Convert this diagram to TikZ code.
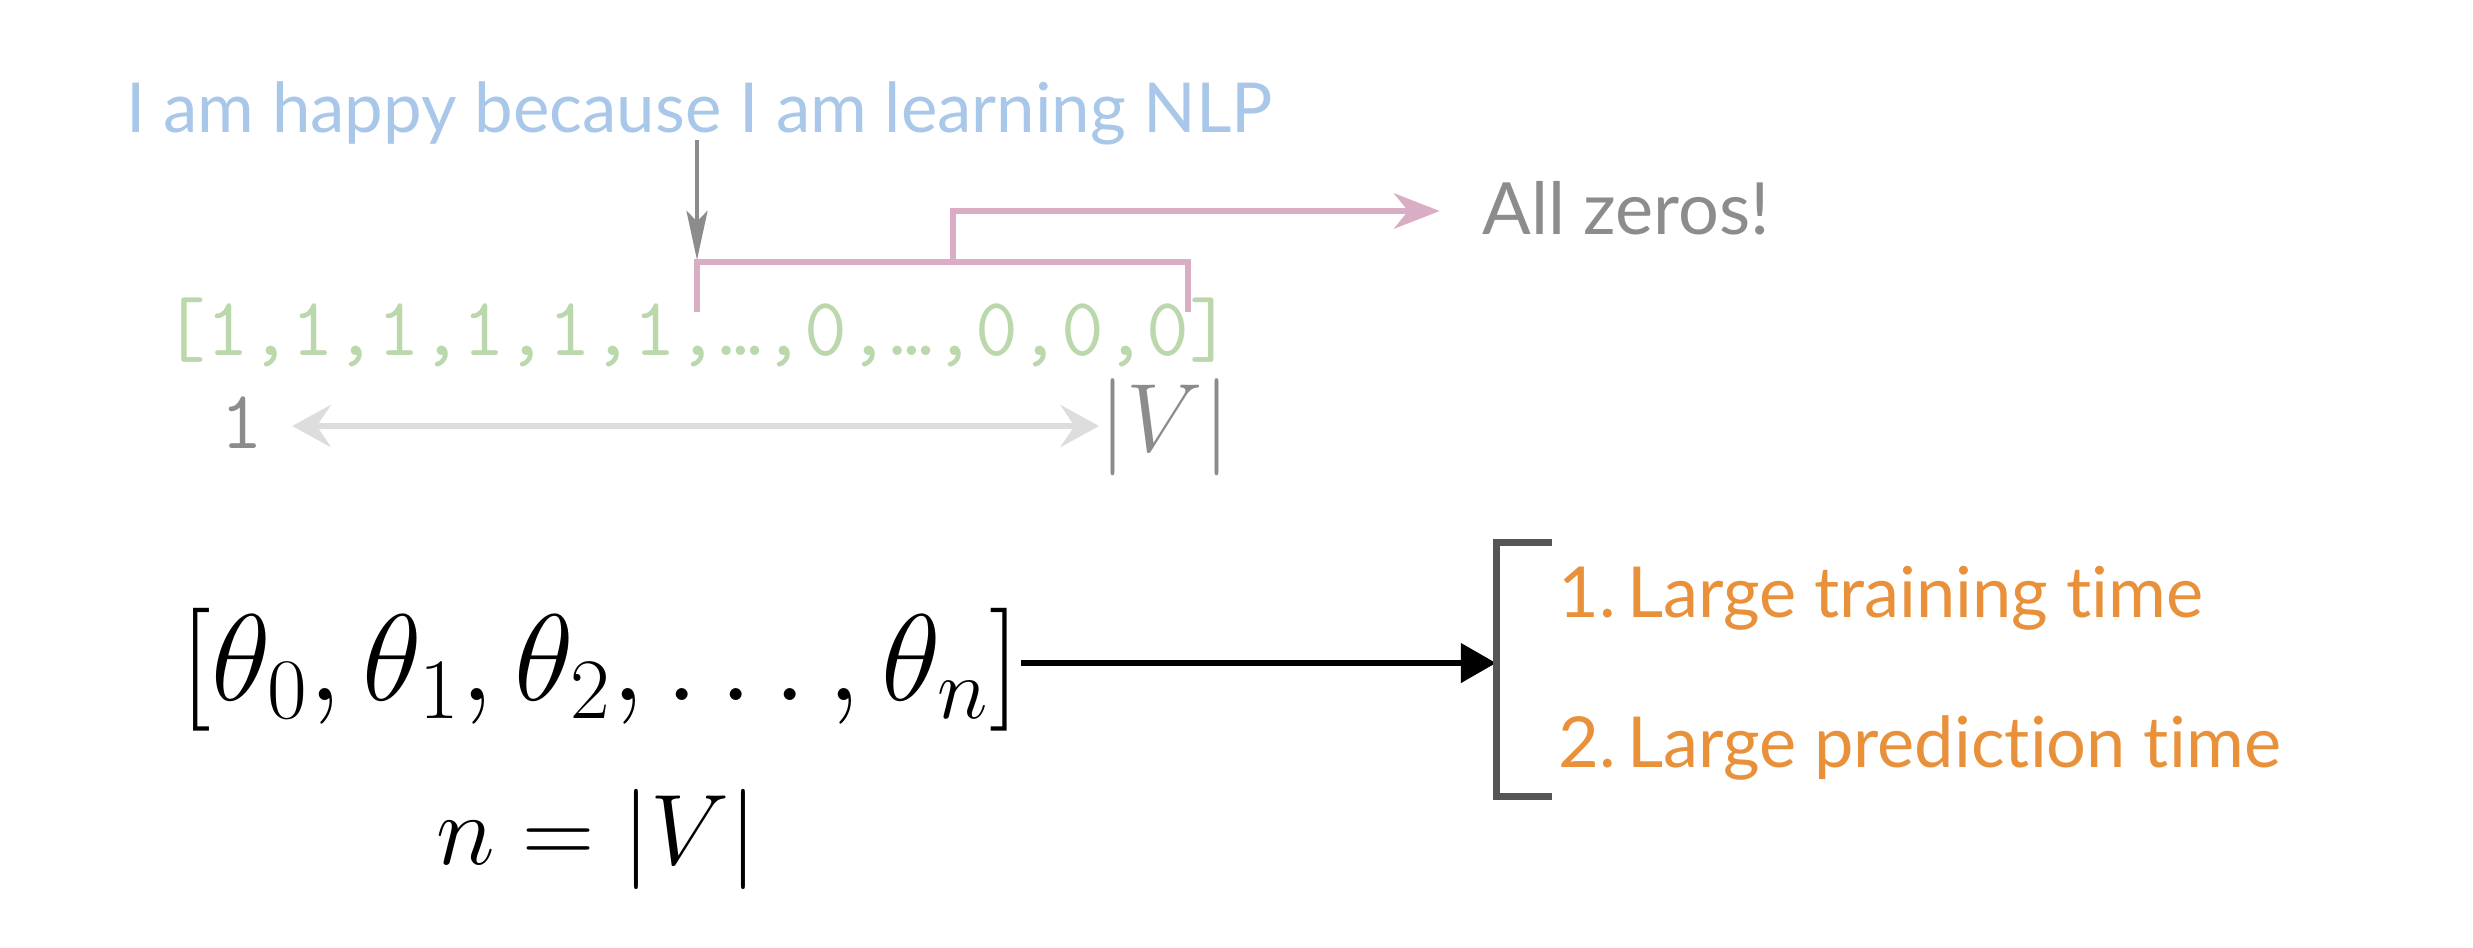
\RequirePackage{fix-cm}
\documentclass[tikz,border=0pt]{standalone}
\usepackage{fontspec}
\setmainfont{Lato}[Ligatures={NoCommon,NoRare,NoContextual}]
\usetikzlibrary{arrows.meta}
\definecolor{tblue}{RGB}{169,199,232}
\definecolor{tpink}{RGB}{217,174,196}
\definecolor{tgreen}{RGB}{186,216,172}
\definecolor{tgray}{RGB}{140,140,140}
\definecolor{tlgray}{RGB}{221,221,221}
\definecolor{torange}{RGB}{232,145,58}
\definecolor{tdark}{RGB}{85,85,85}
\tikzset{
  lato/.style={inner sep=0, font=\fontsize{19.6}{24}\selectfont},
  latoitem/.style={inner sep=0, font=\fontsize{20}{24}\selectfont, text=torange, anchor=base west},
  mono/.style={inner sep=0, font=\ttfamily\fontsize{23.6}{28}\selectfont},
  pinkline/.style={draw=tpink, line width=1.9pt},
  grayarrow/.style={draw=tgray, line width=0.9pt, -{Stealth[length=14pt,width=6pt,inset=3pt]}},
  lgarrow/.style={draw=tlgray, line width=1.6pt, {Stealth[length=11pt,width=12pt,inset=4pt]}-{Stealth[length=11pt,width=12pt,inset=4pt]}},
  blackarrow/.style={draw=black, line width=1.6pt, -{Triangle[length=10pt,width=11pt]}},
  bracketline/.style={draw=tdark, line width=2pt},
}
\begin{document}
\begin{tikzpicture}[x=0.01cm,y=-0.01cm]
\useasboundingbox (0,0) rectangle (2473,947);
% top sentence
\node[lato, anchor=base west, text=tblue] (title) at (126,132) {I am happy because I am learning NLP};
% one-hot vector
\node[mono, anchor=base west, text=tgreen] (vec) at (163,355) {[1,1,1,1,1,1,…,0,…,0,0,0]};
\node[mono, anchor=base, text=tgray] (one) at (242,448) {1};
\node[inner sep=0, anchor=base, text=tgray, font=\fontsize{27.6}{34}\selectfont] (V) at (1165,451) {$|V|$};
\draw[lgarrow] ([xshift=8pt]one.east |- 0,426) -- (V.west |- 0,426);
% gray arrow
\coordinate (gs) at (697,140);
\coordinate (ge) at (697,260);
\draw[grayarrow] (gs) -- (ge);
% pink bracket
\coordinate (bl) at (697,312);
\coordinate (tl) at (697,262);
\coordinate (tr) at (1188,262);
\coordinate (br) at (1188,312);
\coordinate (rs) at (953,262);
\coordinate (rt) at (953,211);
\node[inner sep=0, font=\fontsize{20.5}{25}\selectfont, anchor=base west, text=tgray] (zeros) at (1482,234) {All zeros!};
\draw[pinkline] (bl) -- (tl) -- (tr) -- (br);
\draw[pinkline, -{Stealth[length=13pt,width=10pt,inset=4pt]}, shorten >=12pt] (rs) -- (rt) -- (zeros.west |- rt);
% theta vector
\node[inner sep=0, anchor=base west, font=\fontsize{35}{40}\selectfont] (theta) at (180,700) {$[\theta_0,\theta_1,\theta_2,\ldots,\theta_n]$};
\node[inner sep=0, anchor=base, font=\fontsize{28.5}{34}\selectfont] (neq) at (597,864) {$n=|V|$};
\coordinate (bk) at (1496,663);
\draw[blackarrow] (theta.east |- bk) -- (bk);
% bracket
\coordinate (b1) at (1552,542);
\coordinate (b2) at (1496,542);
\coordinate (b3) at (1496,796);
\coordinate (b4) at (1552,796);
\draw[bracketline] (b1) -- (b2) -- (b3) -- (b4);
\node[latoitem] (i1) at (1558,617) {1.\kern-0.1em\ Large training time};
\node[latoitem] (i2) at (1558,767) {2.\kern-0.1em\ Large prediction time};
\end{tikzpicture}
\end{document}
